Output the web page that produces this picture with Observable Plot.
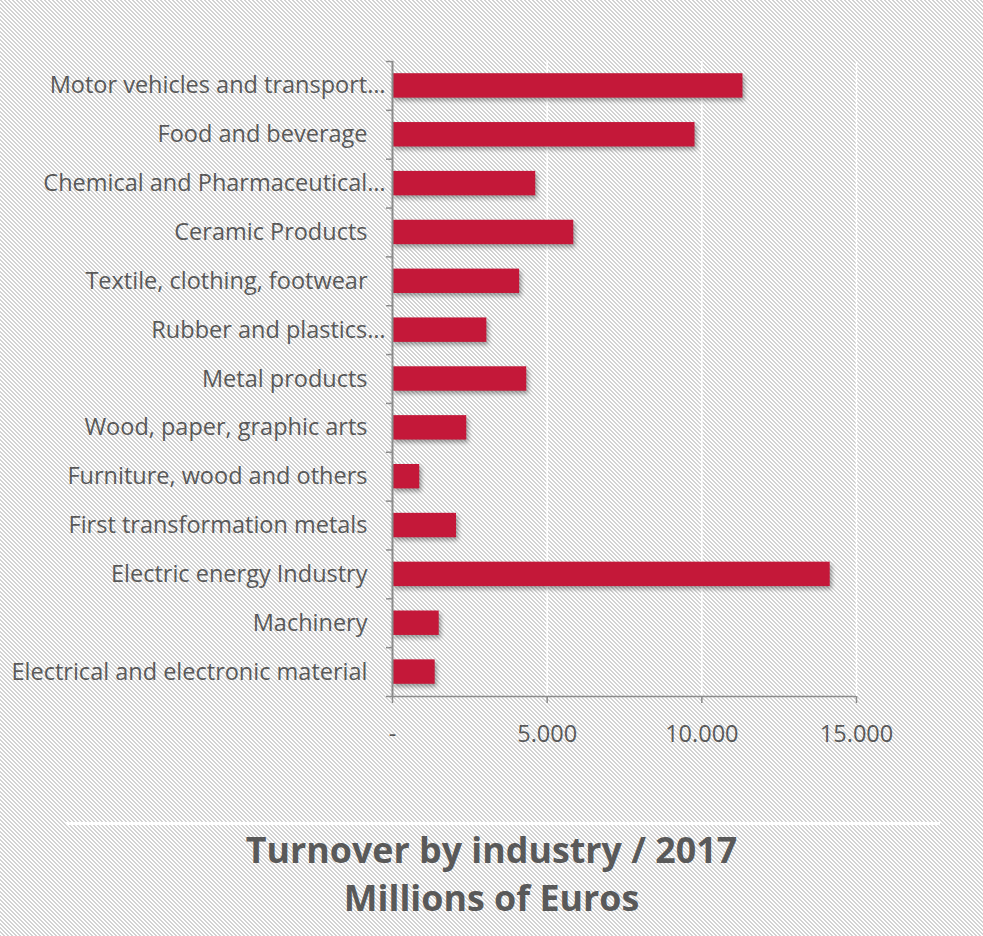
<!DOCTYPE html>
<html>
<head>
<meta charset="utf-8">
<script src="https://cdn.jsdelivr.net/npm/d3@7"></script>
<script src="https://cdn.jsdelivr.net/npm/@observablehq/plot@0.6"></script>
<style>
  html, body { margin: 0; padding: 0; overflow: hidden; }
  body {
    width: 983px; height: 936px;
    background-color: #ffffff;
    font-family: "Open Sans", sans-serif;
  }
  #chart svg { display: block; }
  #chart g[aria-label="bar"] { filter: drop-shadow(2px 3px 2px rgba(0,0,0,0.35)); }
  #rule { margin: 22px 0 0 66px; width: 874px; height: 3px; background: #fff; }
  #title { text-align: center; width: 983px; color: #595959; font-weight: 700; font-size: 35.8px; line-height: 48px; }
</style>
</head>
<body>
<div id="chart"></div>
<div id="rule"></div>
<div id="title">Turnover by industry / 2017<br>Millions of Euros</div>
<script>
const categories = [
  "Motor vehicles and transport…",
  "Food and beverage",
  "Chemical and Pharmaceutical…",
  "Ceramic Products",
  "Textile, clothing, footwear",
  "Rubber and plastics…",
  "Metal products",
  "Wood, paper, graphic arts",
  "Furniture, wood and others",
  "First transformation metals",
  "Electric energy Industry",
  "Machinery",
  "Electrical and electronic material"
];
const values = [11330, 9780, 4630, 5860, 4110, 3050, 4340, 2400, 880, 2070, 14150, 1510, 1380];
const xTicks = [0, 5000, 10000, 15000];
const xTickLabels = ["-", "5.000", "10.000", "15.000"];
const gridValues = [5000, 10000, 15000];

// hatched page background (diagonal light-grey lines)
(function () {
  const c = document.createElement("canvas");
  c.width = 4; c.height = 4;
  const ctx = c.getContext("2d");
  ctx.fillStyle = "#ffffff"; ctx.fillRect(0, 0, 4, 4);
  ctx.fillStyle = "#d2d2d2";
  for (let yy = 0; yy < 4; yy++) {
    ctx.fillRect(yy % 4, yy, 1, 1);
    ctx.fillRect((yy + 1) % 4, yy, 1, 1);
  }
  document.body.style.backgroundImage = `url(${c.toDataURL()})`;
  document.body.style.backgroundRepeat = "repeat";
})();

const data = categories.map((name, i) => ({name, value: values[i]}));
const truncated = categories.filter(c => c.endsWith("…"));
const full = categories.filter(c => !c.endsWith("…"));
const axisColor = "#8c8c8c";
const half = 635 / 13 / 2;

const plot = Plot.plot({
  width: 983,
  height: 800,
  marginLeft: 392,
  marginRight: 127,
  marginTop: 61,
  marginBottom: 104,
  style: {fontFamily: "Open Sans", fontSize: "23.5px", color: "#595959", background: "transparent"},
  x: {domain: [0, 15000]},
  y: {domain: categories, paddingInner: 0.5, paddingOuter: 0.25, round: false, label: null},
  marks: [
    Plot.ruleX(gridValues, {stroke: "#ffffff", strokeWidth: 1.5}),
    Plot.barX(data, {y: "name", x: "value", fill: "#c41839"}),
    Plot.ruleX([0], {stroke: axisColor, strokeWidth: 2}),
    Plot.ruleY([categories[categories.length - 1]], {dy: half, stroke: axisColor, strokeWidth: 1.5}),
    Plot.axisY({ticks: categories, tickSize: 6, dy: -half, tickFormat: null, stroke: axisColor, strokeWidth: 1.5, label: null}),
    Plot.axisY({ticks: [categories[categories.length - 1]], tickSize: 6, dy: half, tickFormat: null, stroke: axisColor, strokeWidth: 1.5, label: null}),
    Plot.axisY({ticks: truncated, tickSize: 0, tickPadding: 7, fill: "#595959", label: null}),
    Plot.axisY({ticks: full, tickSize: 0, tickPadding: 25, fill: "#595959", label: null}),
    Plot.axisX({ticks: xTicks, tickSize: 7, tickPadding: 22, tickFormat: d => xTickLabels[xTicks.indexOf(d)], stroke: axisColor, strokeWidth: 1.5, fill: "#595959", label: null})
  ]
});
document.getElementById("chart").appendChild(plot);
</script>
</body>
</html>
